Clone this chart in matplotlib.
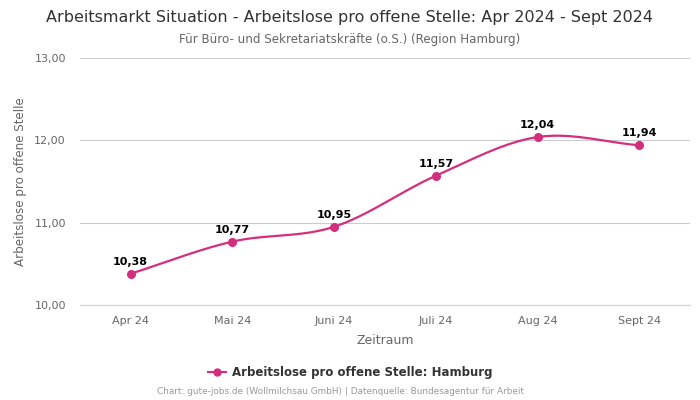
import numpy as np
import matplotlib.pyplot as plt
from matplotlib.ticker import FuncFormatter

# Data
months = ['Apr 24', 'Mai 24', 'Juni 24', 'Juli 24', 'Aug 24', 'Sept 24']
values = [10.38, 10.77, 10.95, 11.57, 12.04, 11.94]

color = '#d42e7e'

def smooth(x, y, n=30):
    # cubic hermite (catmull-rom style tangents) for a smooth line
    x = np.asarray(x, float)
    y = np.asarray(y, float)
    m = np.zeros_like(y)
    m[1:-1] = (y[2:] - y[:-2]) / (x[2:] - x[:-2])
    m[0] = (y[1] - y[0]) / (x[1] - x[0])
    m[-1] = (y[-1] - y[-2]) / (x[-1] - x[-2])
    xs, ys = [], []
    for i in range(len(x) - 1):
        h = x[i + 1] - x[i]
        t = np.linspace(0, 1, n)
        h00 = 2*t**3 - 3*t**2 + 1
        h10 = t**3 - 2*t**2 + t
        h01 = -2*t**3 + 3*t**2
        h11 = t**3 - t**2
        xs.append(x[i] + t*h)
        ys.append(h00*y[i] + h10*h*m[i] + h01*y[i+1] + h11*h*m[i+1])
    return np.concatenate(xs), np.concatenate(ys)

fig = plt.figure(figsize=(7, 4), dpi=100)
ax = fig.add_axes([0.114, 0.2375, 0.872, 0.6175])

x = np.arange(len(months))
xs, ys = smooth(x, values)
ax.plot(xs, ys, color=color, linewidth=1.6, zorder=3)
ax.plot(x, values, 'o', color=color, markersize=5.5, zorder=4)

for xi, v in zip(x, values):
    ax.annotate(f'{v:.2f}'.replace('.', ','), (xi, v), xytext=(0, 5),
                textcoords='offset points', ha='center', va='bottom',
                fontsize=8, fontweight='bold', color='black')

ax.set_xlim(-0.5, len(months) - 0.5)
ax.set_ylim(10, 13)
ax.set_yticks([10, 11, 12, 13])
ax.yaxis.set_major_formatter(FuncFormatter(lambda v, p: f'{v:.2f}'.replace('.', ',')))
ax.set_xticks(x)
ax.set_xticklabels(months)
ax.tick_params(axis='both', length=0, labelsize=8, labelcolor='#666666')
ax.tick_params(axis='x', pad=8)
ax.tick_params(axis='y', pad=10)
ax.grid(axis='y', color='#cccccc', linewidth=0.8)
ax.set_axisbelow(True)
for s in ['top', 'right', 'left']:
    ax.spines[s].set_visible(False)
ax.spines['bottom'].set_color('#ccd6eb')

ax.set_xlabel('Zeitraum', fontsize=9, color='#666666', labelpad=6)
ax.set_ylabel('Arbeitslose pro offene Stelle', fontsize=8.6, color='#666666', labelpad=5)

fig.text(0.5, 0.957, 'Arbeitsmarkt Situation - Arbeitslose pro offene Stelle: Apr 2024 - Sept 2024',
         ha='center', va='center', fontsize=11.5, color='#333333')
fig.text(0.5, 0.902, 'Für Büro- und Sekretariatskräfte (o.S.) (Region Hamburg)',
         ha='center', va='center', fontsize=8.6, color='#666666')

ax.plot([], [], '-o', color=color, markersize=5, label='Arbeitslose pro offene Stelle: Hamburg')
leg = fig.legend(loc='center', bbox_to_anchor=(0.5, 0.068), frameon=False,
                 prop={'weight': 'bold', 'size': 8.5}, handlelength=1.5, handletextpad=0.5)
for t in leg.get_texts():
    t.set_color('#333333')

fig.text(0.486, 0.02, 'Chart: gute-jobs.de (Wollmilchsau GmbH) | Datenquelle: Bundesagentur für Arbeit',
         ha='center', va='center', fontsize=6.4, color='#999999')

fig.savefig('out.png', dpi=100)
